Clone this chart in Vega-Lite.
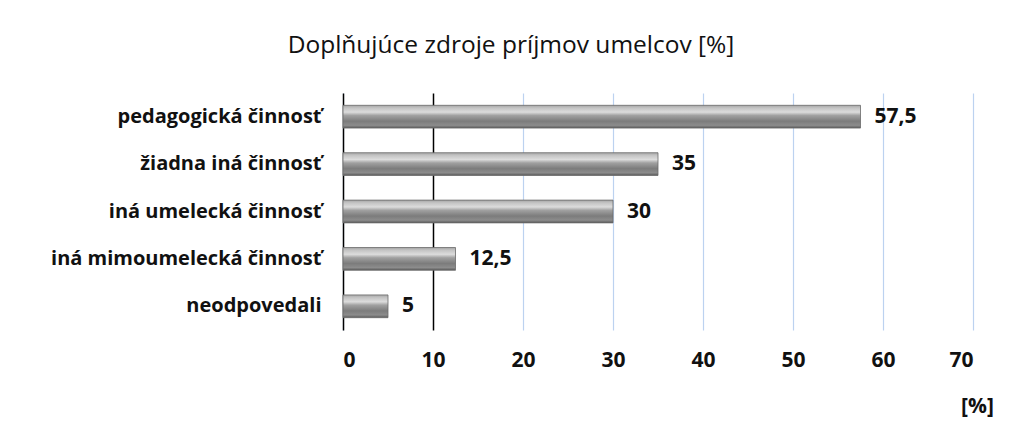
{
  "$schema": "https://vega.github.io/schema/vega-lite/v6.json",
  "autosize": "none",
  "width": 630,
  "height": 237,
  "padding": {"left": 343, "top": 93, "right": 55, "bottom": 98},
  "background": "white",
  "title": {
    "text": "Doplňujúce zdroje príjmov umelcov [%]",
    "font": "Open Sans",
    "fontSize": 24.5,
    "fontWeight": "normal",
    "color": "#111111",
    "anchor": "middle",
    "frame": "group",
    "dx": -147,
    "offset": 35
  },
  "data": {
    "values": [
      {"kategoria": "pedagogická činnosť", "hodnota": 57.5, "popis": "57,5"},
      {"kategoria": "žiadna iná činnosť", "hodnota": 35, "popis": "35"},
      {"kategoria": "iná umelecká činnosť", "hodnota": 30, "popis": "30"},
      {"kategoria": "iná mimoumelecká činnosť\u00a0", "hodnota": 12.5, "popis": "12,5"},
      {"kategoria": "neodpovedali", "hodnota": 5, "popis": "5"}
    ]
  },
  "encoding": {
    "y": {
      "field": "kategoria",
      "type": "nominal",
      "sort": null,
      "scale": {"paddingInner": 0.52, "paddingOuter": 0.26},
      "axis": {
        "title": null,
        "ticks": false,
        "domain": true,
        "domainColor": "#000000",
        "domainWidth": 1.5,
        "labelFont": "Open Sans",
        "labelFontSize": 20,
        "labelFontWeight": "bold",
        "labelColor": "#111111",
        "labelPadding": 22,
        "labelLimit": 400,
        "grid": false
      }
    },
    "x": {
      "field": "hodnota",
      "type": "quantitative",
      "scale": {"domain": [0, 70], "nice": false},
      "axis": {
        "values": [0, 10, 20, 30, 40, 50, 60, 70],
        "title": "[%]",
        "titleFont": "Open Sans",
        "titleFontSize": 21,
        "titleFontWeight": "bold",
        "titleColor": "#111111",
        "titleX": 634,
        "titleY": 76,
        "titleAlign": "center",
        "titleBaseline": "middle",
        "domain": false,
        "ticks": false,
        "labelFont": "Open Sans",
        "labelFontSize": 21,
        "labelFontWeight": "bold",
        "labelColor": "#111111",
        "labelPadding": 19,
        "grid": true,
        "gridColor": {"condition": {"test": "datum.value === 10", "value": "#000000"}, "value": "#bcd2f0"},
        "gridWidth": {"condition": {"test": "datum.value === 10", "value": 1.5}, "value": 1.2}
      }
    }
  },
  "layer": [
    {
      "mark": {
        "type": "bar",
        "stroke": "#6a6a6a",
        "strokeWidth": 0.8,
        "fill": {
          "gradient": "linear",
          "x1": 0, "y1": 0, "x2": 0, "y2": 1,
          "stops": [
            {"offset": 0, "color": "#a6a6a6"},
            {"offset": 0.12, "color": "#c4c4c4"},
            {"offset": 0.3, "color": "#dcdcdc"},
            {"offset": 0.45, "color": "#a0a0a0"},
            {"offset": 0.7, "color": "#7c7c7c"},
            {"offset": 0.88, "color": "#8c8c8c"},
            {"offset": 1, "color": "#5a5a5a"}
          ]
        }
      }
    },
    {
      "mark": {
        "type": "text",
        "align": "left",
        "baseline": "middle",
        "dx": 14,
        "font": "Open Sans",
        "fontSize": 21,
        "fontWeight": "bold",
        "color": "#111111"
      },
      "encoding": {"text": {"field": "popis"}}
    }
  ],
  "config": {"view": {"stroke": null}}
}
